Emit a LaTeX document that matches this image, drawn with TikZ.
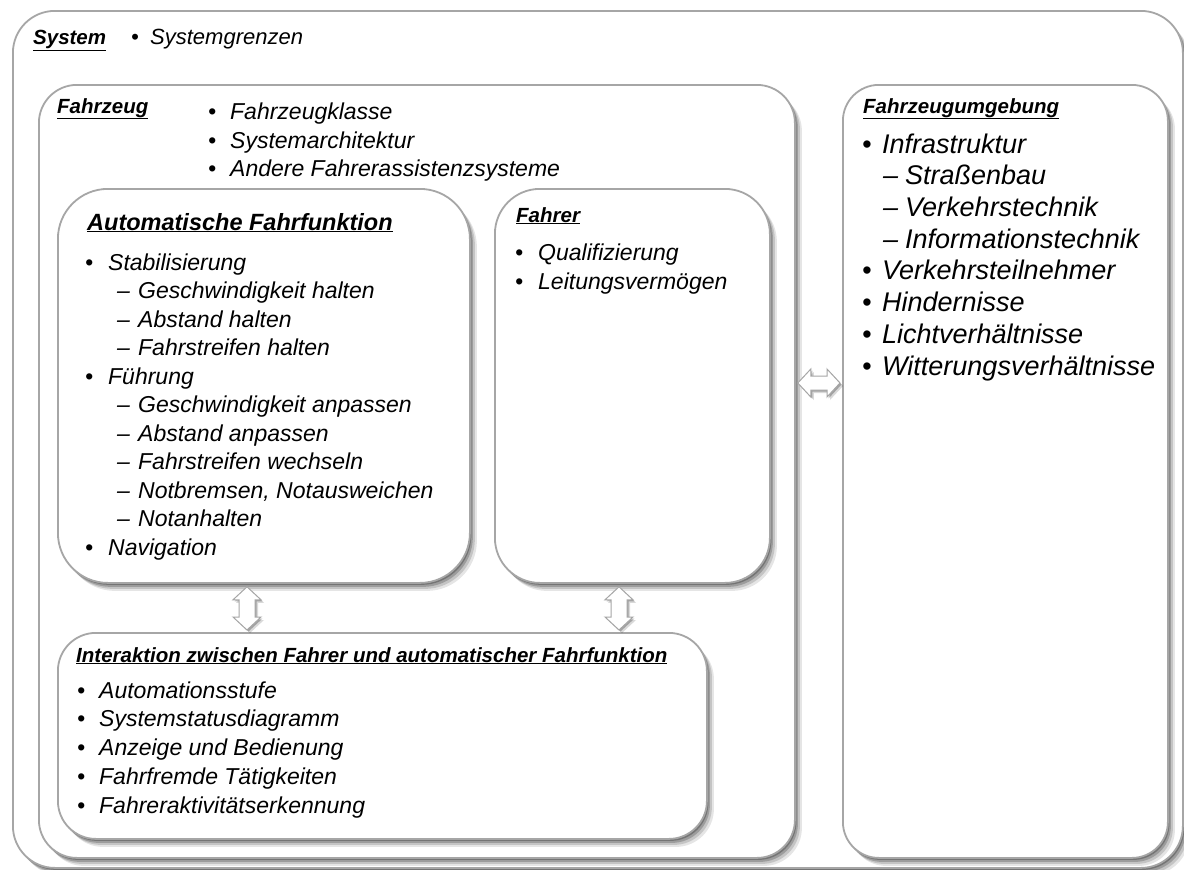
\documentclass[tikz,border=0pt]{standalone}
\usepackage{fontspec}
\setmainfont{Liberation Sans}
\usetikzlibrary{shadows,calc}
\definecolor{boxgray}{HTML}{A6A6A6}
\newcommand\mybul[2]{\makebox[#1pt][l]{\textbullet}#2}
\newcommand\mydash[2]{\makebox[#1pt][l]{\textendash}#2}
\newcommand\vdarr[2]{%
  \draw[arr] (#1) -- ($(#1)+(14,13)$) -- ($(#1)+(8,13)$) -- ($(#2)+(8,-13)$) -- ($(#2)+(14,-13)$) -- (#2)
    -- ($(#2)+(-14,-13)$) -- ($(#2)+(-8,-13)$) -- ($(#1)+(-8,13)$) -- ($(#1)+(-14,13)$) -- cycle;}
\newcommand\hdarr[2]{%
  \draw[arr] (#1) -- ($(#1)+(13,-14)$) -- ($(#1)+(13,-7)$) -- ($(#2)+(-13,-7)$) -- ($(#2)+(-13,-14)$) -- (#2)
    -- ($(#2)+(-13,14)$) -- ($(#2)+(-13,7)$) -- ($(#1)+(13,7)$) -- ($(#1)+(13,14)$) -- cycle;}
\begin{document}
\begin{tikzpicture}[x=1pt,y=-1pt,
  shad/.style={drop shadow={shadow xshift=7pt,shadow yshift=-8pt,opacity=0.10,fill=black},
               drop shadow={shadow xshift=5pt,shadow yshift=-6pt,opacity=0.14,fill=black},
               drop shadow={shadow xshift=3pt,shadow yshift=-4pt,opacity=0.20,fill=black},
               drop shadow={shadow xshift=1.5pt,shadow yshift=-2pt,opacity=0.25,fill=black}},
  box/.style={draw=boxgray, line width=1.8pt, fill=white, inner sep=0pt, anchor=north west, shad},
  arr/.style={draw=boxgray, line width=1pt, fill=white, line join=miter,
              drop shadow={shadow xshift=3pt,shadow yshift=-3pt,opacity=0.15,fill=black},
              drop shadow={shadow xshift=1.5pt,shadow yshift=-1.5pt,opacity=0.25,fill=black}},
  head/.style={anchor=base west, inner sep=0pt, font=\fontsize{20.5}{24}\selectfont\bfseries\itshape},
  big/.style={anchor=base west, inner sep=0pt, font=\fontsize{23.5}{28}\selectfont\bfseries\itshape},
  itm/.style={anchor=base west, inner sep=0pt, font=\fontsize{23}{28}\selectfont\itshape},
  itms/.style={anchor=base west, inner sep=0pt, font=\fontsize{22}{26}\selectfont\itshape},
  itml/.style={anchor=base west, inner sep=0pt, font=\fontsize{27}{32}\selectfont\itshape}
]
\useasboundingbox (0,0) rectangle (1184,870);
\fill[white] (0,0) rectangle (1184,870);

% boxes
\node[box, rounded corners=42pt, minimum width=1170pt, minimum height=857pt] (sys) at (12,10) {};
\node[box, rounded corners=38pt, minimum width=756pt, minimum height=773pt] (fz) at (38,84) {};
\node[box, rounded corners=36pt, minimum width=325pt, minimum height=773pt] (um) at (842,84) {};
\node[box, rounded corners=50pt, minimum width=412pt, minimum height=394pt] (af) at (57,188) {};
\node[box, rounded corners=45pt, minimum width=275pt, minimum height=394pt] (fa) at (494,188) {};
\node[box, rounded corners=38pt, minimum width=649pt, minimum height=206pt] (ia) at (57,632) {};

% System
\node[head] (sysT) at (33,45) {\underline{System}};
\node[itms] (sys1) at (131,45) {\mybul{19}{Systemgrenzen}};

% Fahrzeug
\node[head] (fzT) at (57,113) {\underline{Fahrzeug}};
\node[itm] (fz1) at (208,119) {\mybul{22}{Fahrzeugklasse}};
\node[itm] (fz2) at (208,148) {\mybul{22}{Systemarchitektur}};
\node[itm] (fz3) at (208,176) {\mybul{22}{Andere Fahrerassistenzsysteme}};

% Automatische Fahrfunktion
\node[big] (afT) at (87,230) {\underline{Automatische Fahrfunktion}};
\node[itm] (af1) at (85,270) {\mybul{23}{Stabilisierung}};
\node[itm] (af2) at (117,298.5) {\mydash{21}{Geschwindigkeit halten}};
\node[itm] (af3) at (117,327) {\mydash{21}{Abstand halten}};
\node[itm] (af4) at (117,355.5) {\mydash{21}{Fahrstreifen halten}};
\node[itm] (af5) at (85,384) {\mybul{23}{Führung}};
\node[itm] (af6) at (117,412.5) {\mydash{21}{Geschwindigkeit anpassen}};
\node[itm] (af7) at (117,441) {\mydash{21}{Abstand anpassen}};
\node[itm] (af8) at (117,469.5) {\mydash{21}{Fahrstreifen wechseln}};
\node[itm] (af9) at (117,498) {\mydash{21}{Notbremsen, Notausweichen}};
\node[itm] (af10) at (117,526.5) {\mydash{21}{Notanhalten}};
\node[itm] (af11) at (85,555) {\mybul{23}{Navigation}};

% Fahrer
\node[head] (faT) at (516,222) {\underline{Fahrer}};
\node[itm] (fa1) at (515,260) {\mybul{23}{Qualifizierung}};
\node[itm] (fa2) at (515,289) {\mybul{23}{Leitungsvermögen}};

% Fahrzeugumgebung
\node[head] (umT) at (863,113) {\underline{Fahrzeugumgebung}};
\node[itml] (um1) at (862,153) {\mybul{20}{Infrastruktur}};
\node[itml] (um2) at (883,184.7) {\mydash{22}{Straßenbau}};
\node[itml] (um3) at (883,216.4) {\mydash{22}{Verkehrstechnik}};
\node[itml] (um4) at (883,248.1) {\mydash{22}{Informationstechnik}};
\node[itml] (um5) at (862,279.8) {\mybul{20}{Verkehrsteilnehmer}};
\node[itml] (um6) at (862,311.5) {\mybul{20}{Hindernisse}};
\node[itml] (um7) at (862,343.2) {\mybul{20}{Lichtverhältnisse}};
\node[itml] (um8) at (862,375) {\mybul{20}{Witterungsverhältnisse}};

% Interaktion
\node[head] (iaT) at (76,662) {\underline{Interaktion zwischen Fahrer und automatischer Fahrfunktion}};
\node[itm] (ia1) at (77,698) {\mybul{22}{Automationsstufe}};
\node[itm] (ia2) at (77,726.75) {\mybul{22}{Systemstatusdiagramm}};
\node[itm] (ia3) at (77,755.5) {\mybul{22}{Anzeige und Bedienung}};
\node[itm] (ia4) at (77,784.25) {\mybul{22}{Fahrfremde Tätigkeiten}};
\node[itm] (ia5) at (77,813) {\mybul{22}{Fahreraktivitätserkennung}};

% connectors (block double arrows)
\coordinate (ax1) at (247,0);
\coordinate (ax2) at (619,0);
\coordinate (hy) at (0,383);
\coordinate (a1t) at ($(ax1 |- af.south)+(0,3)$);
\coordinate (a1b) at ($(ax1 |- ia.north)+(0,-2)$);
\coordinate (a2t) at ($(ax2 |- fa.south)+(0,3)$);
\coordinate (a2b) at ($(ax2 |- ia.north)+(0,-2)$);
\coordinate (h1) at ($(fz.east |- hy)+(2,0)$);
\coordinate (h2) at ($(um.west |- hy)+(-2,0)$);
\vdarr{a1t}{a1b}
\vdarr{a2t}{a2b}
\hdarr{h1}{h2}
\end{tikzpicture}
\end{document}
